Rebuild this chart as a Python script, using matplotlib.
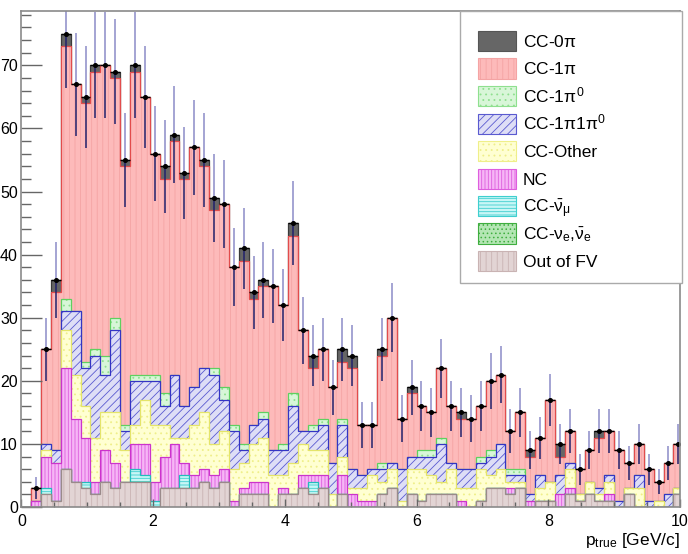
import numpy as np
import matplotlib
matplotlib.use('Agg')
import matplotlib.pyplot as plt
from matplotlib.patches import Rectangle
from matplotlib.ticker import MultipleLocator

plt.rcParams['font.family'] = ['Liberation Sans', 'DejaVu Sans']
plt.rcParams['mathtext.fontset'] = 'custom'
plt.rcParams['mathtext.rm'] = 'Liberation Sans'
plt.rcParams['mathtext.it'] = 'Liberation Sans'
plt.rcParams['mathtext.sf'] = 'Liberation Sans'
plt.rcParams['hatch.linewidth'] = 0.6

# binning: 0.15 GeV/c bins, last bin cut by the axis at 10
bin_width = 0.15
n_bins = 67
edges = np.arange(n_bins + 1) * bin_width

# stacked MC components, bottom to top
out_fv = [0, 0, 2, 1, 6, 4, 3, 2, 4, 3, 4, 4, 4, 0, 3, 3, 3, 3, 4, 3, 4, 0, 2, 2, 2, 0, 2, 2, 3, 2, 3, 0, 2, 0,
          0, 0, 2, 3, 0, 2, 1, 2, 2, 2, 0, 0, 1, 3, 3, 2, 3, 0, 1, 1, 0, 2, 1, 2, 1, 1, 0, 2, 0, 0, 0, 0, 2]
cc_nue = [0] * n_bins
cc_numubar = [0, 0, 1, 0, 0, 0, 1, 0, 0, 0, 0, 2, 1, 1, 0, 0, 2, 0, 0, 0, 0, 0, 0, 0, 0, 0, 0, 0, 0, 2, 0, 0, 0, 0,
              0, 0, 0, 0, 0, 0, 0, 0, 0, 0, 0, 0, 0, 0, 0, 0, 0, 0, 0, 0, 0, 0, 0, 0, 0, 0, 0, 0, 0, 0, 0, 0, 0]
nc = [0, 1, 5, 6, 16, 10, 7, 2, 5, 4, 0, 4, 5, 3, 5, 7, 2, 2, 2, 2, 2, 1, 1, 2, 2, 0, 1, 0, 2, 1, 2, 0, 3, 2,
      1, 1, 0, 0, 0, 0, 0, 0, 0, 0, 1, 0, 0, 0, 0, 1, 0, 1, 0, 0, 2, 1, 0, 0, 0, 1, 0, 0, 0, 0, 0, 0, 0]
cc_other = [0, 0, 1, 0, 6, 7, 5, 7, 6, 8, 5, 3, 7, 9, 5, 1, 4, 8, 9, 5, 6, 5, 4, 6, 7, 5, 2, 5, 5, 4, 4, 2, 3, 1,
            2, 4, 2, 3, 1, 4, 5, 3, 2, 4, 2, 3, 5, 2, 3, 1, 1, 0, 2, 3, 0, 3, 1, 2, 1, 2, 0, 1, 3, 0, 1, 0, 1]
cc_1pi1pi0 = [0, 0, 1, 2, 3, 10, 6, 13, 6, 13, 3, 7, 3, 7, 3, 10, 5, 6, 7, 11, 5, 6, 2, 3, 3, 4, 4, 9, 2, 3, 4, 5, 5, 3,
              2, 1, 2, 1, 5, 2, 2, 3, 6, 1, 3, 3, 1, 3, 4, 1, 1, 1, 2, 0, 3, 1, 0, 0, 1, 1, 1, 0, 2, 1, 0, 2, 0]
cc_1pi0 = [0, 0, 0, 0, 2, 0, 1, 1, 3, 2, 1, 1, 1, 1, 2, 0, 0, 0, 0, 1, 2, 1, 1, 0, 1, 0, 1, 2, 0, 1, 1, 0, 1, 0,
           0, 0, 1, 0, 0, 0, 1, 1, 1, 0, 0, 0, 1, 1, 0, 1, 1, 0, 0, 0, 0, 0, 0, 0, 0, 0, 0, 0, 0, 0, 0, 0, 0]
cc_1pi = [0, 2, 15, 25, 40, 36, 41, 44, 46, 38, 41, 48, 44, 35, 34, 37, 36, 38, 32, 25, 29, 25, 29, 20, 20, 26, 22, 25,
          16, 9, 11, 12, 9, 16, 8, 7, 17, 23, 8, 10, 7, 6, 11, 9, 8, 8, 8, 11, 11, 6, 9, 6, 6, 13, 3, 5, 4, 5, 8, 7,
          8, 4, 5, 5, 3, 5, 7]
cc_0pi = [0, 0, 0, 2, 2, 0, 1, 1, 0, 1, 1, 1, 0, 0, 2, 1, 1, 0, 1, 2, 0, 0, 2, 1, 1, 0, 0, 2, 0, 2, 0, 0, 2, 2,
          0, 0, 1, 0, 0, 1, 0, 0, 0, 0, 1, 0, 0, 0, 0, 0, 0, 1, 0, 0, 2, 0, 0, 0, 1, 0, 0, 0, 0, 0, 0, 0, 0]

# points with sqrt(N) errors
data_counts = [0, 3, 25, 36, 75, 67, 65, 70, 70, 69, 55, 70, 65, 56, 54, 59, 53, 57, 55, 49, 48, 38, 41, 34, 36, 35,
               32, 45, 28, 24, 25, 19, 25, 24, 13, 13, 25, 30, 14, 19, 16, 15, 22, 16, 15, 14, 16, 20, 21, 12, 15, 9,
               11, 17, 10, 12, 6, 9, 12, 12, 9, 7, 10, 6, 4, 7, 10]

legend_labels = [r'CC-0$\pi$', r'CC-1$\pi$', r'CC-1$\pi^{0}$', r'CC-1$\pi$1$\pi^{0}$', 'CC-Other', 'NC',
                 r'CC-$\bar{\nu}_{\mu}$', r'CC-$\nu_{e}$,$\bar{\nu}_{e}$', 'Out of FV']

# (values, face, hatch colour, outline, hatch) bottom -> top
components = [
    (out_fv, '#e2d4d4', '#c9b3b3', '#9a8a8a', '|||'),
    (cc_nue, '#b4e6b4', '#3fae3f', '#2f9a2f', '....'),
    (cc_numubar, '#c8f6f6', '#3fcfcf', '#22bcbc', '-----'),
    (nc, '#f6b6f6', '#de5ede', '#cc33cc', '|||||'),
    (cc_other, '#ffffd2', '#efef8a', '#e4e46a', '...'),
    (cc_1pi1pi0, '#dedef6', '#5a5ad0', '#3434c4', '////'),
    (cc_1pi0, '#d8f6d8', '#8fe08f', '#5fd05f', '...'),
    (cc_1pi, '#fdbaba', '#f4a4a4', '#e24c4c', '|||'),
    (cc_0pi, '#666666', '#555555', '#3a3a3a', None),
]

W, H = 688, 554
fig = plt.figure(figsize=(W / 100, H / 100), dpi=100)
ax = fig.add_axes([0.031, 0.0848, 0.9574, 0.8953])

# cumulative stack, drawn top-down like THStack
tops = np.cumsum([np.array(c[0], dtype=float) for c in components], axis=0)
for i in reversed(range(len(components))):
    vals, face, hcol, lcol, hatch = components[i]
    ax.stairs(tops[i], edges, baseline=0, fill=True, facecolor=face, edgecolor=hcol,
              hatch=hatch, linewidth=0)
    ax.stairs(tops[i], edges, baseline=None, color=lcol, linewidth=0.9)

# error bars
data = np.array(data_counts, dtype=float)
centers = edges[:-1] + bin_width / 2
m = data > 0
err = np.sqrt(data[m])
ax.vlines(centers[m], data[m], data[m] + err, color='#8c8cc8', linewidth=1.1)
ax.vlines(centers[m], data[m] - err, data[m], color='#22226c', linewidth=1.1)
ax.hlines(data[m], centers[m] - bin_width / 2, centers[m] + bin_width / 2, color='black', linewidth=1.0)
ax.plot(centers[m], data[m], 'o', color='black', markersize=2.6)

ax.set_xlim(0, 10)
ax.set_ylim(0, 78.6)

ax.xaxis.set_major_locator(MultipleLocator(2))
ax.xaxis.set_minor_locator(MultipleLocator(0.5))
ax.yaxis.set_major_locator(MultipleLocator(10))
ax.yaxis.set_minor_locator(MultipleLocator(2))
ax.tick_params(axis='both', which='both', direction='in', top=False, right=False,
               color='#666666', labelsize=11.5)
ax.tick_params(axis='y', which='major', length=15, width=1, pad=2.5)
ax.tick_params(axis='y', which='minor', length=7.5, width=1)
ax.tick_params(axis='x', which='major', length=6, width=1, pad=5)
ax.tick_params(axis='x', which='minor', length=3.5, width=1)
for s in ax.spines.values():
    s.set_color('#8a8a8a')
    s.set_linewidth(1.2)

fig.text(0.988, 0.008, r'p$_{\mathregular{true}}$ [GeV/c]', ha='right', va='bottom', fontsize=12.5)

# ROOT-style TLegend: fixed box, entries laid out in pixel rows
def fx(px):
    return px / W

def fy(py):
    return 1 - py / H

fig.add_artist(Rectangle((fx(460), fy(283)), fx(682) - fx(460), fy(11) - fy(283), transform=fig.transFigure,
                         facecolor='white', edgecolor='#aaaaaa', linewidth=1.0, zorder=5))
for i, c in enumerate(components[::-1]):
    yc = 41 + 27.5 * i
    fig.add_artist(Rectangle((fx(478), fy(yc + 10)), fx(516) - fx(478), fy(yc - 10) - fy(yc + 10),
                             transform=fig.transFigure, facecolor=c[1], edgecolor=c[2], hatch=c[4],
                             linewidth=0.8, zorder=6))
    fig.text(fx(523), fy(yc + 6), legend_labels[i], ha='left', va='baseline', fontsize=12.5, zorder=7)

fig.savefig('out.png', dpi=100, facecolor='white')
